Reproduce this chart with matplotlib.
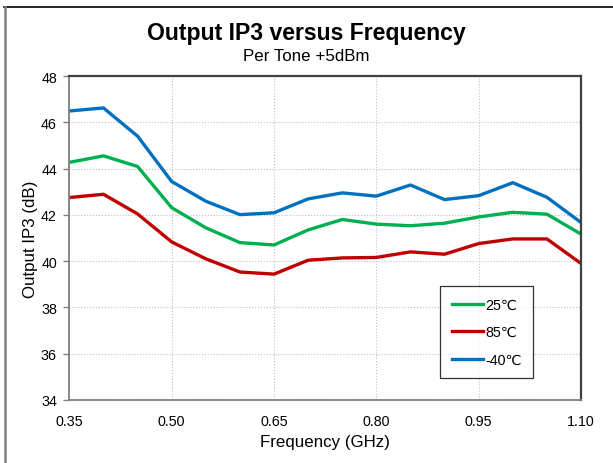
import matplotlib.pyplot as plt
from matplotlib.lines import Line2D

plt.rcParams['font.family'] = ['Liberation Sans', 'DejaVu Sans']

freq = [0.35, 0.40, 0.45, 0.50, 0.55, 0.60, 0.65, 0.70,
        0.75, 0.80, 0.85, 0.90, 0.95, 1.00, 1.05, 1.10]
ip3_25 = [44.27, 44.55, 44.09, 42.31, 41.44, 40.80, 40.70, 41.35,
          41.80, 41.60, 41.53, 41.64, 41.91, 42.11, 42.03, 41.17]
ip3_85 = [42.75, 42.89, 42.04, 40.83, 40.10, 39.53, 39.44, 40.04,
          40.14, 40.16, 40.40, 40.30, 40.76, 40.96, 40.96, 39.90]
ip3_m40 = [46.49, 46.62, 45.40, 43.44, 42.59, 42.01, 42.09, 42.69,
           42.95, 42.81, 43.29, 42.66, 42.83, 43.39, 42.76, 41.67]

x_ticks = [0.35, 0.50, 0.65, 0.80, 0.95, 1.10]
y_ticks = [34, 36, 38, 40, 42, 44, 46, 48]

fig = plt.figure(figsize=(6.13, 4.64), dpi=100)
ax = fig.add_axes([0.1132, 0.1358, 0.8346, 0.6982])

ax.plot(freq, ip3_25, color='#00B050', lw=2.4, label='25\u2103')
ax.plot(freq, ip3_85, color='#C00000', lw=2.4, label='85\u2103')
ax.plot(freq, ip3_m40, color='#0070C0', lw=2.4, label='-40\u2103')

ax.set_xlim(0.35, 1.10)
ax.set_ylim(34, 48)
ax.set_xticks(x_ticks)
ax.set_xticklabels(['%.2f' % v for v in x_ticks])
ax.set_yticks(y_ticks)
ax.tick_params(axis='both', labelsize=10.3, colors='#000000')
ax.tick_params(axis='x', length=0, pad=10)
ax.tick_params(axis='y', length=4, width=1.0, color='#808080', pad=5)
ax.grid(True, color='#BFBFBF', ls=':', lw=0.8)
for side in ['left', 'bottom']:
    ax.spines[side].set_color('#808080')
    ax.spines[side].set_linewidth(1.3)
for side in ['top', 'right']:
    ax.spines[side].set_color('#404040')
    ax.spines[side].set_linewidth(1.6)

ax.set_xlabel('Frequency (GHz)', fontsize=12.2, labelpad=4.5)
ax.set_ylabel('Output IP3 (dB)', fontsize=12.2, labelpad=2)

fig.text(0.5, 0.928, 'Output IP3 versus Frequency', ha='center', va='center',
         fontsize=16.6, fontweight='bold')
fig.text(0.5, 0.878, 'Per Tone +5dBm', ha='center', va='center', fontsize=12.2)

leg = ax.legend(loc='upper left', bbox_to_anchor=(0.725, 0.351), fontsize=10.3,
                frameon=True, fancybox=False, handlelength=2.2,
                handletextpad=0.15, labelspacing=0.95, borderpad=0.8,
                borderaxespad=0)
leg.get_frame().set_edgecolor('#000000')
leg.get_frame().set_linewidth(0.9)

# chart area border: top and left edges only
fig.add_artist(Line2D([0.007, 1.0], [1 - 7.5 / 464, 1 - 7.5 / 464],
                      transform=fig.transFigure, color='#000000', lw=1.2))
fig.add_artist(Line2D([4.8 / 613, 4.8 / 613], [0, 1 - 7.5 / 464],
                      transform=fig.transFigure, color='#808080', lw=1.8))

fig.savefig('out.png', dpi=100)
